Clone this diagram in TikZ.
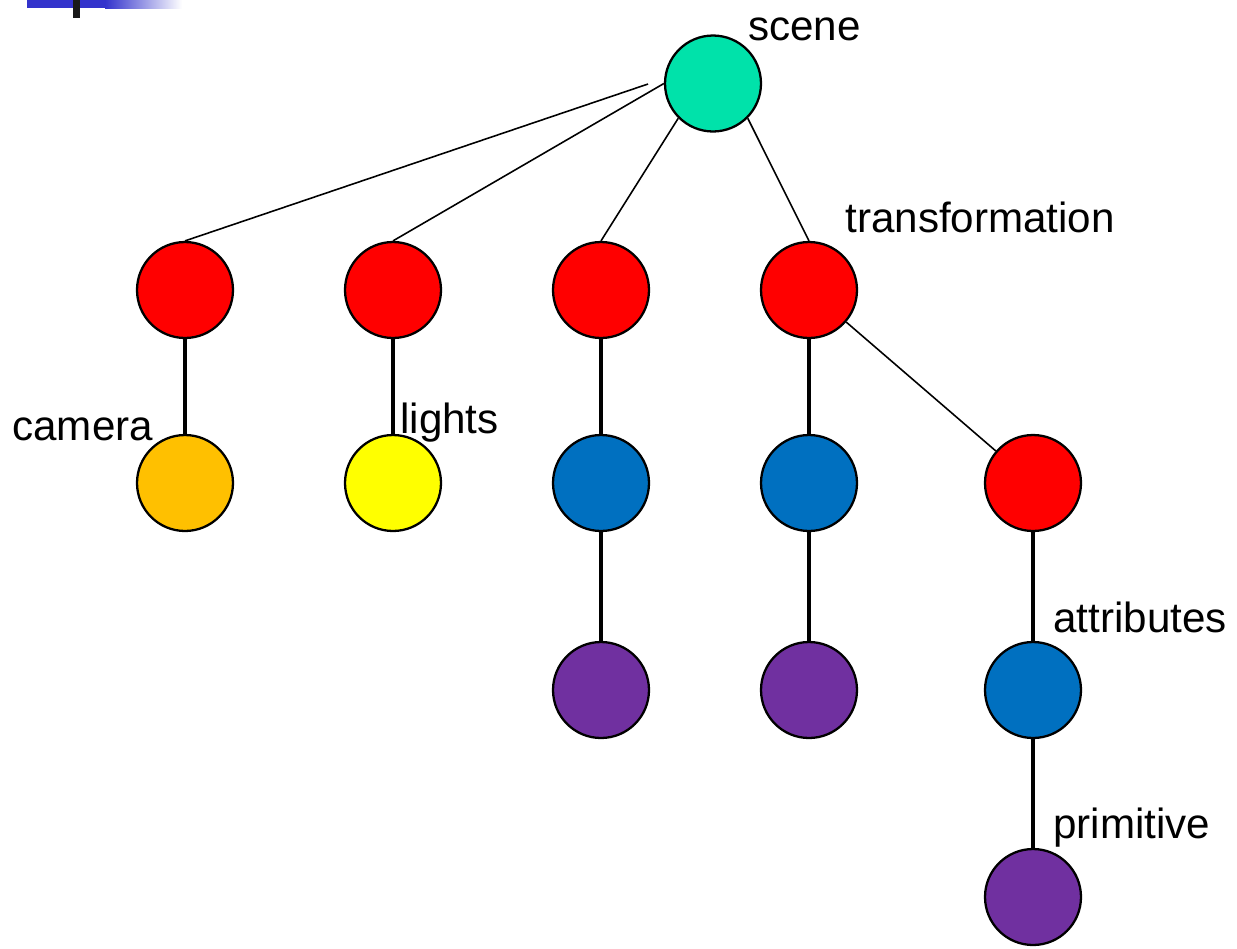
\documentclass[tikz,border=0pt]{standalone}
\usepackage{fontspec}
\setmainfont{Liberation Sans}
\definecolor{scenec}{RGB}{0,226,170}
\definecolor{redc}{RGB}{255,0,0}
\definecolor{orangec}{RGB}{255,192,0}
\definecolor{yellowc}{RGB}{255,255,0}
\definecolor{bluec}{RGB}{0,112,192}
\definecolor{purplec}{RGB}{112,48,160}
\definecolor{barblue}{RGB}{51,51,204}
\begin{document}
\begin{tikzpicture}[x=0.02cm,y=-0.02cm,
  ball/.style={circle,draw=black,line width=1.3pt,minimum size=1.92cm,inner sep=0pt},
  thin edge/.style={line width=0.9pt},
  thick edge/.style={line width=2pt},
  lbl/.style={anchor=base west,inner sep=0pt,font=\fontsize{24}{28}\selectfont}]
\useasboundingbox (0,0) rectangle (1237,948);
% top-left decoration
\fill[barblue] (27,0) rectangle (106,8);
\shade[left color=barblue,right color=white] (105,0) rectangle (182,8);
\fill[black!90] (73,0) rectangle (80,18);
% edges (drawn first, under the balls)
\node[ball,fill=scenec] (scene) at (713,83.5) {};
\node[ball,fill=redc] (r1) at (185,290) {};
\node[ball,fill=redc] (r2) at (393,290) {};
\node[ball,fill=redc] (r3) at (601,290) {};
\node[ball,fill=redc] (r4) at (809,290) {};
\node[ball,fill=orangec] (cam) at (185,483) {};
\node[ball,fill=yellowc] (lig) at (393,483) {};
\node[ball,fill=bluec] (b3) at (601,483) {};
\node[ball,fill=bluec] (b4) at (809,483) {};
\node[ball,fill=redc] (r5) at (1033,483) {};
\node[ball,fill=purplec] (p3) at (601,690) {};
\node[ball,fill=purplec] (p4) at (809,690) {};
\node[ball,fill=bluec] (b5) at (1033,690) {};
\node[ball,fill=purplec] (p5) at (1033,897) {};
\coordinate (s0) at (648,84);
\draw[thin edge] (s0) -- (r1.north);
\draw[thin edge] (scene.west) -- (r2.north);
\draw[thin edge] (scene.-135) -- (r3.north);
\draw[thin edge] (scene.-45) -- (r4.north);
\draw[thin edge] (r4) -- (r5);
\draw[thick edge] (r1) -- (cam);
\draw[thick edge] (r2) -- (lig);
\draw[thick edge] (r3) -- (b3);
\draw[thick edge] (b3) -- (p3);
\draw[thick edge] (r4) -- (b4);
\draw[thick edge] (b4) -- (p4);
\draw[thick edge] (r5) -- (b5);
\draw[thick edge] (b5) -- (p5);
% labels
\node[lbl] (lscene) at (748,40) {scene};
\node[lbl] (ltrans) at (845,232) {transformation};
\node[lbl] (lcam) at (12,440) {camera};
\node[lbl] (llig) at (400,433) {lights};
\node[lbl] (lattr) at (1053,632) {attributes};
\node[lbl] (lprim) at (1053,838) {primitive};
\end{tikzpicture}
\end{document}
